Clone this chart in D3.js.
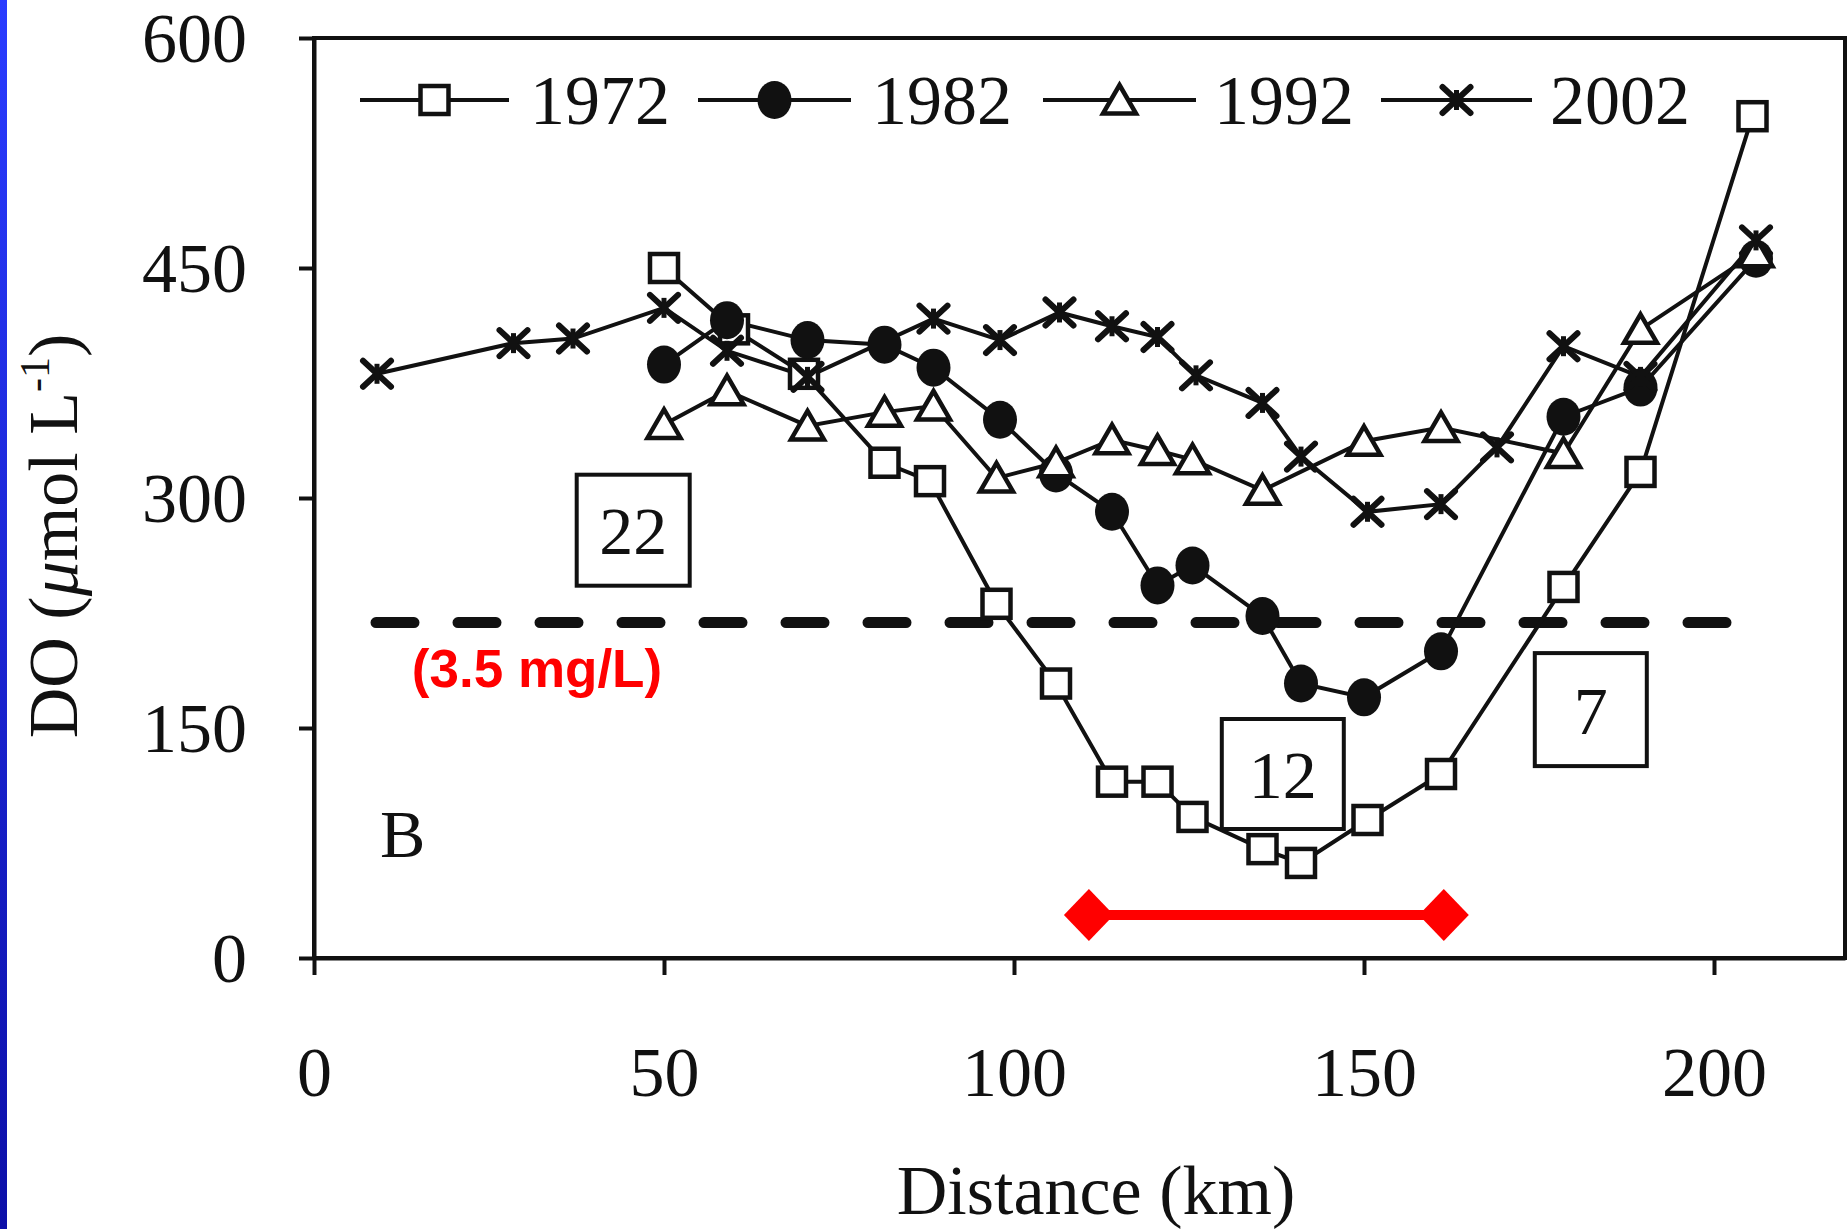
<!DOCTYPE html>
<html>
<head>
<meta charset="utf-8">
<script src="https://cdn.jsdelivr.net/npm/d3@7"></script>
<style>
  html, body { margin: 0; padding: 0; background: #fff; }
  svg { display: block; }
</style>
</head>
<body>
<div id="chart"></div>
<script>
// values: distance (km) and DO (umol/L) per survey year
const dist1972 = [50, 60, 70, 81.5, 88, 97.5, 106, 114, 120.5, 125.5, 135.5, 141, 150.5, 161, 178.5, 189.5, 205.5];
const do1972   = [450, 410, 381, 323, 311, 231, 179, 115, 115, 92, 71, 62, 90, 120, 242, 317, 549];

const dist1982 = [50, 59, 70.5, 81.5, 88.5, 98, 106, 114, 120.5, 125.5, 135.5, 141, 150, 161, 178.5, 189.5, 206];
const do1982   = [387, 416, 403, 400, 385, 351, 316, 291, 243, 256, 223, 179, 170, 200, 353, 372, 456];

const dist1992 = [50, 59, 70.5, 81.5, 88.5, 97.5, 106, 114, 120.5, 125.5, 135.5, 150, 161, 178.5, 189.5, 206];
const do1992   = [348, 370, 347, 356, 360, 313, 323, 338, 331, 325, 305, 337, 346, 329, 410, 460];

const dist2002 = [9, 28.5, 37, 50, 59, 70.5, 88.5, 98, 106.5, 114, 120.5, 126, 135.5, 141, 150.5, 161, 169, 178.5, 189.5, 206];
const do2002   = [381, 401, 404, 424, 396, 379, 417, 403, 421, 412, 405, 380, 362, 327, 291, 296, 333, 399, 379, 468];

const years = ["1972", "1982", "1992", "2002"];
const xTicks = [0, 50, 100, 150, 200];
const yTicks = [0, 150, 300, 450, 600];

// hypoxia threshold (3.5 mg/L) and the red extent bar
const thresholdDO = 218.75;
const thresholdDist = [8, 205];
const hypoxiaDist = [110.7, 161.4];
const hypoxiaLevel = 28;

// boxed counts
const boxText = ["22", "12", "7"];
const boxDist = [45.6, 138.4, 182.4];
const boxDO = [279, 120, 162];

const W = 1848, H = 1229;
const margin = { left: 314, top: 38, right: 3, bottom: 271 };
const serif = "'Liberation Serif', 'Times New Roman', serif";

const svg = d3.select("#chart").append("svg")
  .attr("width", W)
  .attr("height", H);

// blue strip at the left edge of the slide
const grad = svg.append("defs").append("linearGradient")
  .attr("id", "edge").attr("x1", 0).attr("y1", 0).attr("x2", 0).attr("y2", 1);
grad.append("stop").attr("offset", "0%").attr("stop-color", "#2a3cff");
grad.append("stop").attr("offset", "100%").attr("stop-color", "#0c0fa8");
svg.append("rect").attr("x", 0).attr("y", 0).attr("width", 7).attr("height", H).attr("fill", "url(#edge)");

const x = d3.scaleLinear().domain([0, (W - margin.right - margin.left) / 7]).range([margin.left, W - margin.right]);
const y = d3.scaleLinear().domain([0, 600]).range([H - margin.bottom, margin.top]);

// frame
svg.append("rect")
  .attr("x", x(0)).attr("y", y(600))
  .attr("width", x.range()[1] - x(0)).attr("height", y(0) - y(600))
  .attr("fill", "none").attr("stroke", "#111").attr("stroke-width", 4);

const xAxis = d3.axisBottom(x).tickValues(xTicks).tickSize(17).tickSizeOuter(0).tickPadding(71);
const yAxis = d3.axisLeft(y).tickValues(yTicks).tickSize(15).tickSizeOuter(0).tickPadding(52);

const gx = svg.append("g").attr("transform", `translate(0,${y(0)})`).call(xAxis);
const gy = svg.append("g").attr("transform", `translate(${x(0)},0)`).call(yAxis);
[gx, gy].forEach(g => {
  g.select(".domain").attr("stroke", "#111").attr("stroke-width", 4);
  g.selectAll(".tick line").attr("stroke", "#111").attr("stroke-width", 4);
  g.selectAll(".tick text")
    .attr("font-family", serif)
    .attr("font-size", 70)
    .attr("fill", "#111");
});
gy.selectAll(".tick text").attr("dy", "0.33em");

// axis titles
svg.append("text")
  .attr("x", 1096).attr("y", 1214)
  .attr("text-anchor", "middle")
  .attr("font-family", serif).attr("font-size", 70).attr("fill", "#111")
  .text("Distance (km)");

const yt = svg.append("text")
  .attr("transform", "translate(77,536) rotate(-90)")
  .attr("text-anchor", "middle")
  .attr("font-family", serif).attr("font-size", 70).attr("fill", "#111");
yt.append("tspan").text("DO (");
yt.append("tspan").attr("font-style", "italic").text("\u03bc");
yt.append("tspan").text("mol L");
yt.append("tspan").attr("font-size", 42).attr("dy", -28).text("-1");
yt.append("tspan").attr("dy", 28).text(")");

// threshold line and label
svg.append("line")
  .attr("x1", x(thresholdDist[0]) + 6).attr("x2", x(thresholdDist[1]))
  .attr("y1", y(thresholdDO)).attr("y2", y(thresholdDO))
  .attr("stroke", "#111").attr("stroke-width", 11)
  .attr("stroke-linecap", "round")
  .attr("stroke-dasharray", "38 44");

svg.append("text")
  .attr("x", 537).attr("y", 687)
  .attr("text-anchor", "middle")
  .attr("font-family", "'Liberation Sans', Arial, sans-serif")
  .attr("font-weight", "bold").attr("font-size", 53).attr("fill", "#ff0000")
  .text("(3.5 mg/L)");

svg.append("text")
  .attr("x", 380).attr("y", 857)
  .attr("font-family", serif).attr("font-size", 68).attr("fill", "#111")
  .text("B");

// series
const series = [
  { year: "1972", d: dist1972, v: do1972, shape: "square" },
  { year: "1982", d: dist1982, v: do1982, shape: "circle" },
  { year: "1992", d: dist1992, v: do1992, shape: "triangle" },
  { year: "2002", d: dist2002, v: do2002, shape: "star" }
];

const line = d3.line().x(p => x(p[0])).y(p => y(p[1]));

series.forEach(s => {
  svg.append("path")
    .attr("d", line(s.d.map((d, i) => [d, s.v[i]])))
    .attr("fill", "none").attr("stroke", "#111").attr("stroke-width", 4);
});

function drawMarker(g, shape, cx, cy) {
  if (shape === "square") {
    g.append("rect").attr("x", cx - 14).attr("y", cy - 14).attr("width", 28).attr("height", 28)
      .attr("fill", "#fff").attr("stroke", "#111").attr("stroke-width", 4.5);
  } else if (shape === "circle") {
    g.append("ellipse").attr("cx", cx).attr("cy", cy).attr("rx", 17).attr("ry", 19)
      .attr("fill", "#111");
  } else if (shape === "triangle") {
    g.append("path")
      .attr("d", `M${cx},${cy - 15}L${cx + 16.5},${cy + 13.5}L${cx - 16.5},${cy + 13.5}Z`)
      .attr("fill", "#fff").attr("stroke", "#111").attr("stroke-width", 4.5).attr("stroke-linejoin", "miter");
  } else {
    g.append("path")
      .attr("d", `M${cx - 14},${cy - 13}L${cx + 14},${cy + 13}M${cx + 14},${cy - 13}L${cx - 14},${cy + 13}`)
      .attr("fill", "none").attr("stroke", "#111").attr("stroke-width", 6).attr("stroke-linecap", "round");
    g.append("path")
      .attr("d", `M${cx},${cy - 10}L${cx},${cy + 10}`)
      .attr("fill", "none").attr("stroke", "#111").attr("stroke-width", 5);
  }
}

// drawing order of markers: squares, circles, triangles, stars
["square", "circle", "triangle", "star"].forEach(shape => {
  const s = series.find(t => t.shape === shape);
  const g = svg.append("g");
  s.d.forEach((d, i) => drawMarker(g, shape, x(d), y(s.v[i])));
});

// boxed counts
const boxW = [113, 122, 112], boxH = [111, 110, 113];
boxText.forEach((t, i) => {
  const cx = x(boxDist[i]), cy = y(boxDO[i]);
  svg.append("rect")
    .attr("x", cx - boxW[i] / 2).attr("y", cy - boxH[i] / 2)
    .attr("width", boxW[i]).attr("height", boxH[i])
    .attr("fill", "#fff").attr("stroke", "#111").attr("stroke-width", 4);
  svg.append("text")
    .attr("x", cx).attr("y", cy + 24)
    .attr("text-anchor", "middle")
    .attr("font-family", serif).attr("font-size", 68).attr("fill", "#111")
    .text(t);
});

// red hypoxic extent bar
const ry = y(hypoxiaLevel);
svg.append("line")
  .attr("x1", x(hypoxiaDist[0])).attr("x2", x(hypoxiaDist[1]))
  .attr("y1", ry).attr("y2", ry)
  .attr("stroke", "#ff0000").attr("stroke-width", 10);
hypoxiaDist.forEach(d => {
  const cx = x(d);
  svg.append("path")
    .attr("d", `M${cx},${ry - 26}L${cx + 25},${ry}L${cx},${ry + 26}L${cx - 25},${ry}Z`)
    .attr("fill", "#ff0000");
});

// legend
const legY = 100;
const legLine = [[360, 509], [698, 851], [1043, 1196], [1381, 1532]];
const legText = [530, 872, 1214, 1550];
years.forEach((yr, i) => {
  const s = series.find(t => t.year === yr);
  svg.append("line")
    .attr("x1", legLine[i][0]).attr("x2", legLine[i][1])
    .attr("y1", legY).attr("y2", legY)
    .attr("stroke", "#111").attr("stroke-width", 4);
  drawMarker(svg.append("g"), s.shape, (legLine[i][0] + legLine[i][1]) / 2, legY);
  svg.append("text")
    .attr("x", legText[i]).attr("y", legY + 24)
    .attr("font-family", serif).attr("font-size", 70).attr("fill", "#111")
    .text(yr);
});
</script>
</body>
</html>
